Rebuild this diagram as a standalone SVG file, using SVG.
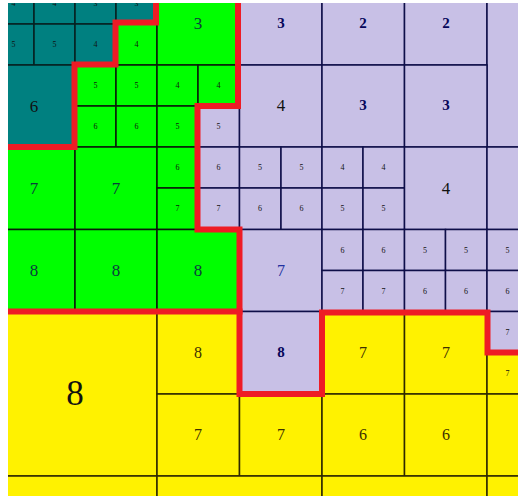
<svg xmlns="http://www.w3.org/2000/svg" width="518" height="496" viewBox="0 0 518 496">
<style>
.t{fill:#008080;stroke:#062020;stroke-width:1.5}
.g{fill:#00ff00;stroke:#0a1a0a;stroke-width:1.5}
.l{fill:#c8c0e6;stroke:#0e0e48;stroke-width:1.5}
.y{fill:#fff200;stroke:#2e2800;stroke-width:1.5}
text{font-family:"Liberation Serif","Times New Roman",serif;text-anchor:middle;dominant-baseline:central}
.s{font-size:8px;fill:#111}
.L{font-size:17px;fill:#0a3d3d}
.Lk{font-size:17px;fill:#111}
.Ly{font-size:16px;fill:#3d3000}
.N{font-size:15px;font-weight:bold;fill:#06065a}
.B{font-size:16px;fill:#2030a0}
.H{font-size:35px;fill:#111}
.red{fill:none;stroke:#ee1c25;stroke-width:6;stroke-linejoin:miter;stroke-linecap:square}
</style>
<defs><clipPath id="map"><rect x="8" y="3" width="510" height="493"/></clipPath></defs>
<rect width="518" height="496" fill="#fff"/>
<g clip-path="url(#map)">
<g id="teal">
<rect class="t" x="-7" y="-17" width="41" height="41"/>
<rect class="t" x="34" y="-17" width="41" height="41"/>
<rect class="t" x="-7" y="24" width="41" height="41"/>
<rect class="t" x="34" y="24" width="41" height="41"/>
<rect class="t" x="75" y="-17" width="41" height="41"/>
<rect class="t" x="116" y="-17" width="41" height="41"/>
<rect class="t" x="75" y="24" width="41" height="41"/>
<rect class="t" x="-7" y="65" width="82" height="82"/>
</g>
<g id="green">
<rect class="g" x="116" y="24" width="41" height="41"/>
<rect class="g" x="157" y="-17" width="82.5" height="82"/>
<rect class="g" x="75" y="65" width="41" height="41"/>
<rect class="g" x="116" y="65" width="41" height="41"/>
<rect class="g" x="75" y="106" width="41" height="41"/>
<rect class="g" x="116" y="106" width="41" height="41"/>
<rect class="g" x="157" y="65" width="41" height="41"/>
<rect class="g" x="198" y="65" width="41.5" height="41"/>
<rect class="g" x="157" y="106" width="41" height="41"/>
<rect class="g" x="-7" y="147" width="82" height="82.5"/>
<rect class="g" x="75" y="147" width="82" height="82.5"/>
<rect class="g" x="157" y="147" width="41" height="41"/>
<rect class="g" x="157" y="188" width="41" height="41.5"/>
<rect class="g" x="-7" y="229.5" width="82" height="82"/>
<rect class="g" x="75" y="229.5" width="82" height="82"/>
<rect class="g" x="157" y="229.5" width="82.5" height="82"/>
</g>
<g id="lavender">
<rect class="l" x="239.5" y="-17" width="82.5" height="82"/>
<rect class="l" x="322" y="-17" width="82.5" height="82"/>
<rect class="l" x="404.5" y="-17" width="82.5" height="82"/>
<rect class="l" x="487" y="-17" width="164" height="164"/>
<rect class="l" x="198" y="106" width="41.5" height="41"/>
<rect class="l" x="239.5" y="65" width="82.5" height="82"/>
<rect class="l" x="322" y="65" width="82.5" height="82"/>
<rect class="l" x="404.5" y="65" width="82.5" height="82"/>
<rect class="l" x="198" y="147" width="41.5" height="41"/>
<rect class="l" x="198" y="188" width="41.5" height="41.5"/>
<rect class="l" x="239.5" y="147" width="41.5" height="41"/>
<rect class="l" x="281" y="147" width="41" height="41"/>
<rect class="l" x="239.5" y="188" width="41.5" height="41.5"/>
<rect class="l" x="281" y="188" width="41" height="41.5"/>
<rect class="l" x="322" y="147" width="41" height="41"/>
<rect class="l" x="363" y="147" width="41.5" height="41"/>
<rect class="l" x="322" y="188" width="41" height="41.5"/>
<rect class="l" x="363" y="188" width="41.5" height="41.5"/>
<rect class="l" x="404.5" y="147" width="82.5" height="82.5"/>
<rect class="l" x="487" y="147" width="82" height="82.5"/>
<rect class="l" x="239.5" y="229.5" width="82.5" height="82"/>
<rect class="l" x="322" y="229.5" width="41" height="41"/>
<rect class="l" x="363" y="229.5" width="41.5" height="41"/>
<rect class="l" x="322" y="270.5" width="41" height="41"/>
<rect class="l" x="363" y="270.5" width="41.5" height="41"/>
<rect class="l" x="404.5" y="229.5" width="41" height="41"/>
<rect class="l" x="445.5" y="229.5" width="41.5" height="41"/>
<rect class="l" x="404.5" y="270.5" width="41" height="41"/>
<rect class="l" x="445.5" y="270.5" width="41.5" height="41"/>
<rect class="l" x="487" y="229.5" width="41" height="41"/>
<rect class="l" x="528" y="229.5" width="41" height="41"/>
<rect class="l" x="487" y="270.5" width="41" height="41"/>
<rect class="l" x="528" y="270.5" width="41" height="41"/>
<rect class="l" x="239.5" y="311.5" width="82.5" height="82.5"/>
<rect class="l" x="487" y="311.5" width="41" height="41"/>
<rect class="l" x="528" y="311.5" width="41" height="41"/>
</g>
<g id="yellow">
<rect class="y" x="-7" y="311.5" width="164" height="164.5"/>
<rect class="y" x="157" y="311.5" width="82.5" height="82.5"/>
<rect class="y" x="322" y="311.5" width="82.5" height="82.5"/>
<rect class="y" x="404.5" y="311.5" width="82.5" height="82.5"/>
<rect class="y" x="487" y="352.5" width="41" height="41.5"/>
<rect class="y" x="528" y="352.5" width="41" height="41.5"/>
<rect class="y" x="157" y="394" width="82.5" height="82"/>
<rect class="y" x="239.5" y="394" width="82.5" height="82"/>
<rect class="y" x="322" y="394" width="82.5" height="82"/>
<rect class="y" x="404.5" y="394" width="82.5" height="82"/>
<rect class="y" x="487" y="394" width="82" height="82"/>
<rect class="y" x="-7" y="476" width="164" height="164"/>
<rect class="y" x="157" y="476" width="165" height="164"/>
<rect class="y" x="322" y="476" width="165" height="164"/>
<rect class="y" x="487" y="476" width="164" height="164"/>
</g>
<g id="labels">
<text class="s" x="13.5" y="3.5">4</text>
<text class="s" x="54.5" y="3.5">4</text>
<text class="s" x="95.5" y="3.5">3</text>
<text class="s" x="136.5" y="3.5">3</text>
<text class="s" x="13.5" y="44.5">5</text>
<text class="s" x="54.5" y="44.5">5</text>
<text class="s" x="95.5" y="44.5">4</text>
<text class="s" x="136.5" y="44.5">4</text>
<text class="L" x="198" y="23">3</text>
<text class="N" x="281" y="23">3</text>
<text class="N" x="363" y="23">2</text>
<text class="N" x="446" y="23">2</text>
<text class="Lk" x="34" y="106">6</text>
<text class="s" x="95.5" y="85.5">5</text>
<text class="s" x="136.5" y="85.5">5</text>
<text class="s" x="95.5" y="126.5">6</text>
<text class="s" x="136.5" y="126.5">6</text>
<text class="s" x="177.5" y="85.5">4</text>
<text class="s" x="218.5" y="85.5">4</text>
<text class="s" x="177.5" y="126.5">5</text>
<text class="s" x="218.5" y="126.5">5</text>
<text class="Lk" x="281" y="105">4</text>
<text class="N" x="363" y="105">3</text>
<text class="N" x="446" y="105">3</text>
<text class="L" x="34" y="188">7</text>
<text class="L" x="116" y="188">7</text>
<text class="s" x="177.5" y="167.5">6</text>
<text class="s" x="177.5" y="208.5">7</text>
<text class="s" x="218.5" y="167.5">6</text>
<text class="s" x="218.5" y="208.5">7</text>
<text class="s" x="260" y="167.5">5</text>
<text class="s" x="301.5" y="167.5">5</text>
<text class="s" x="260" y="208.5">6</text>
<text class="s" x="301.5" y="208.5">6</text>
<text class="s" x="342.5" y="167.5">4</text>
<text class="s" x="383.5" y="167.5">4</text>
<text class="s" x="342.5" y="208.5">5</text>
<text class="s" x="383.5" y="208.5">5</text>
<text class="Lk" x="446" y="188">4</text>
<text class="L" x="34" y="270">8</text>
<text class="L" x="116" y="270">8</text>
<text class="L" x="198" y="270">8</text>
<text class="B" x="281" y="270">7</text>
<text class="s" x="342.5" y="250">6</text>
<text class="s" x="383.5" y="250">6</text>
<text class="s" x="342.5" y="291">7</text>
<text class="s" x="383.5" y="291">7</text>
<text class="s" x="425" y="250">5</text>
<text class="s" x="466" y="250">5</text>
<text class="s" x="425" y="291">6</text>
<text class="s" x="466" y="291">6</text>
<text class="s" x="507.5" y="250">5</text>
<text class="s" x="507.5" y="291">6</text>
<text class="H" x="75" y="393">8</text>
<text class="Ly" x="198" y="352">8</text>
<text class="N" x="281" y="352">8</text>
<text class="Ly" x="363" y="352">7</text>
<text class="Ly" x="446" y="352">7</text>
<text class="s" x="507.5" y="332">7</text>
<text class="s" x="507.5" y="373">7</text>
<text class="Ly" x="198" y="434">7</text>
<text class="Ly" x="281" y="434">7</text>
<text class="Ly" x="363" y="434">6</text>
<text class="Ly" x="446" y="434">6</text>
</g>
<g id="borders">
<path class="red" d="M156,-5V22.5H115.5V64.5H74.5V147H0"/>
<path class="red" d="M238,-5V106H197.5V229.5H239.5V394H322V312.5H487.5V352.5H525"/>
<path class="red" d="M0,311.5H239.5"/>
</g>
</g>
</svg>
